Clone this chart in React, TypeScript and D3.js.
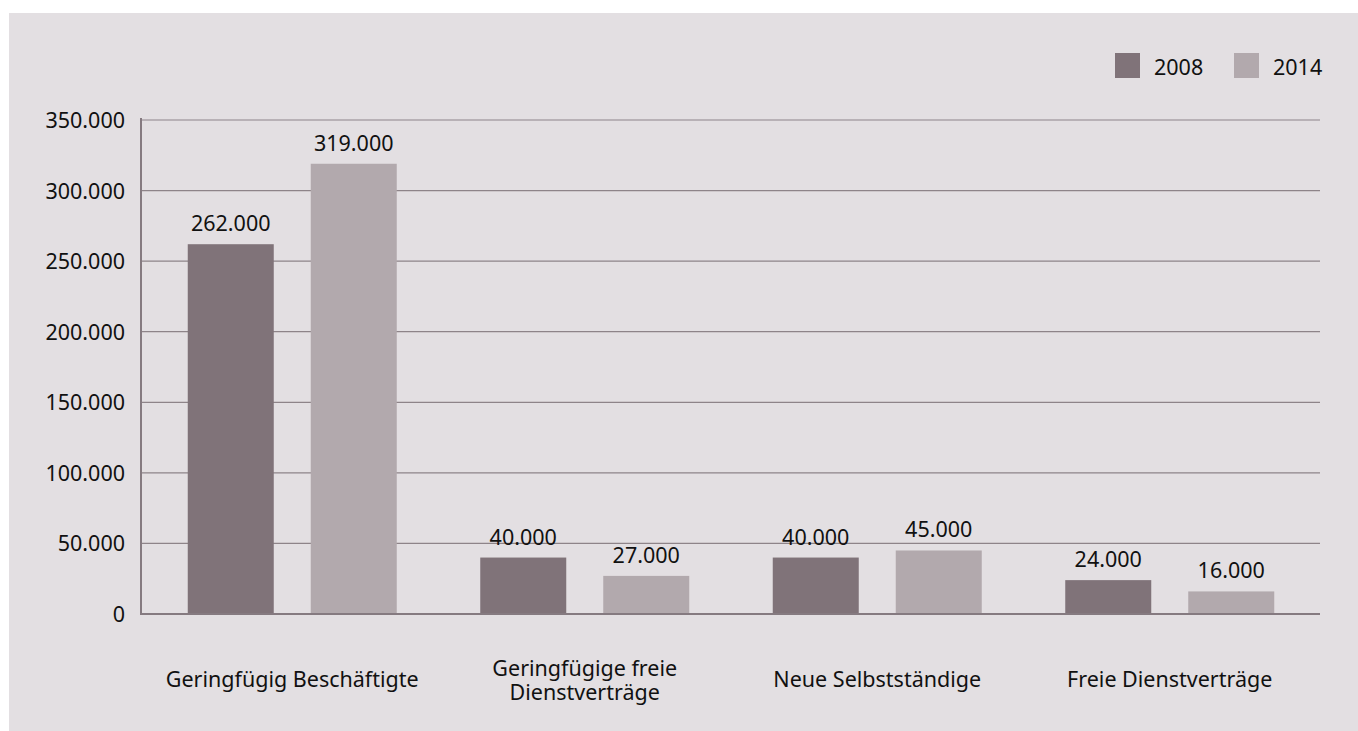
import React from "react";
import * as d3 from "d3";

const categories = [
  ["Geringfügig Beschäftigte"],
  ["Geringfügige freie", "Dienstverträge"],
  ["Neue Selbstständige"],
  ["Freie Dienstverträge"],
];
const seriesNames = ["2008", "2014"];
const values2008 = [262000, 40000, 40000, 24000];
const values2014 = [319000, 27000, 45000, 16000];
const yTicks = [0, 50000, 100000, 150000, 200000, 250000, 300000, 350000];
const colors = ["#807379", "#b2a9ad"];

const W = 1358;
const H = 731;
const FONT = "'Noto Sans', 'Open Sans', sans-serif";
const FS = 21.5;

const fmt = (v: number) => d3.format(",")(v).replace(/,/g, ".");

export default function App() {
  const left = 141;
  const right = 1320;
  const top = 120;
  const bottom = 614;
  const x = d3
    .scaleBand<number>()
    .domain(categories.map((_, i) => i))
    .range([146, 1316]);
  const y = d3.scaleLinear().domain([0, 350000]).range([bottom, top]);
  const barW = 86;
  const gap = 37;
  const series = [values2008, values2014];

  return (
    <svg
      width={W}
      height={H}
      style={{ position: "absolute", left: 0, top: 0 }}
      fontFamily={FONT}
    >
      <rect x={0} y={0} width={W} height={H} fill="#ffffff" />
      <rect x={9} y={13} width={W - 9} height={H - 13} fill="#e3dfe2" />
      {yTicks.map((t) => (
        <g key={t}>
          {t > 0 && (
            <line
              x1={left}
              x2={right}
              y1={y(t)}
              y2={y(t)}
              stroke="#8e8489"
              strokeWidth={1.2}
            />
          )}
          <text
            x={125}
            y={y(t) + 8}
            textAnchor="end"
            fontSize={FS}
            fill="#111"
          >
            {fmt(t)}
          </text>
        </g>
      ))}
      {categories.map((c, i) => {
        const cx = (x(i) as number) + x.bandwidth() / 2;
        return (
          <g key={i}>
            {series.map((s, j) => {
              const bx = cx - gap / 2 - barW + j * (barW + gap);
              return (
                <g key={j}>
                  <rect
                    x={bx}
                    y={y(s[i])}
                    width={barW}
                    height={bottom - y(s[i])}
                    fill={colors[j]}
                  />
                  <text
                    x={bx + barW / 2}
                    y={y(s[i]) - 13}
                    textAnchor="middle"
                    fontSize={FS}
                    fill="#111"
                  >
                    {fmt(s[i])}
                  </text>
                </g>
              );
            })}
            <text
              x={cx}
              y={c.length === 1 ? 687 : 676}
              textAnchor="middle"
              fontSize={FS}
              fill="#111"
            >
              {c.map((line, k) => (
                <tspan key={k} x={cx} dy={k === 0 ? 0 : 24}>
                  {line}
                </tspan>
              ))}
            </text>
          </g>
        );
      })}
      <line x1={left} x2={left} y1={118} y2={bottom + 1} stroke="#857a80" strokeWidth={2} />
      <line x1={left} x2={right} y1={bottom} y2={bottom} stroke="#857a80" strokeWidth={2} />
      {seriesNames.map((n, j) => (
        <g key={n}>
          <rect x={1115 + j * 119} y={53} width={25} height={25} fill={colors[j]} />
          <text x={1154 + j * 119} y={75} fontSize={FS} fill="#111">
            {n}
          </text>
        </g>
      ))}
    </svg>
  );
}
